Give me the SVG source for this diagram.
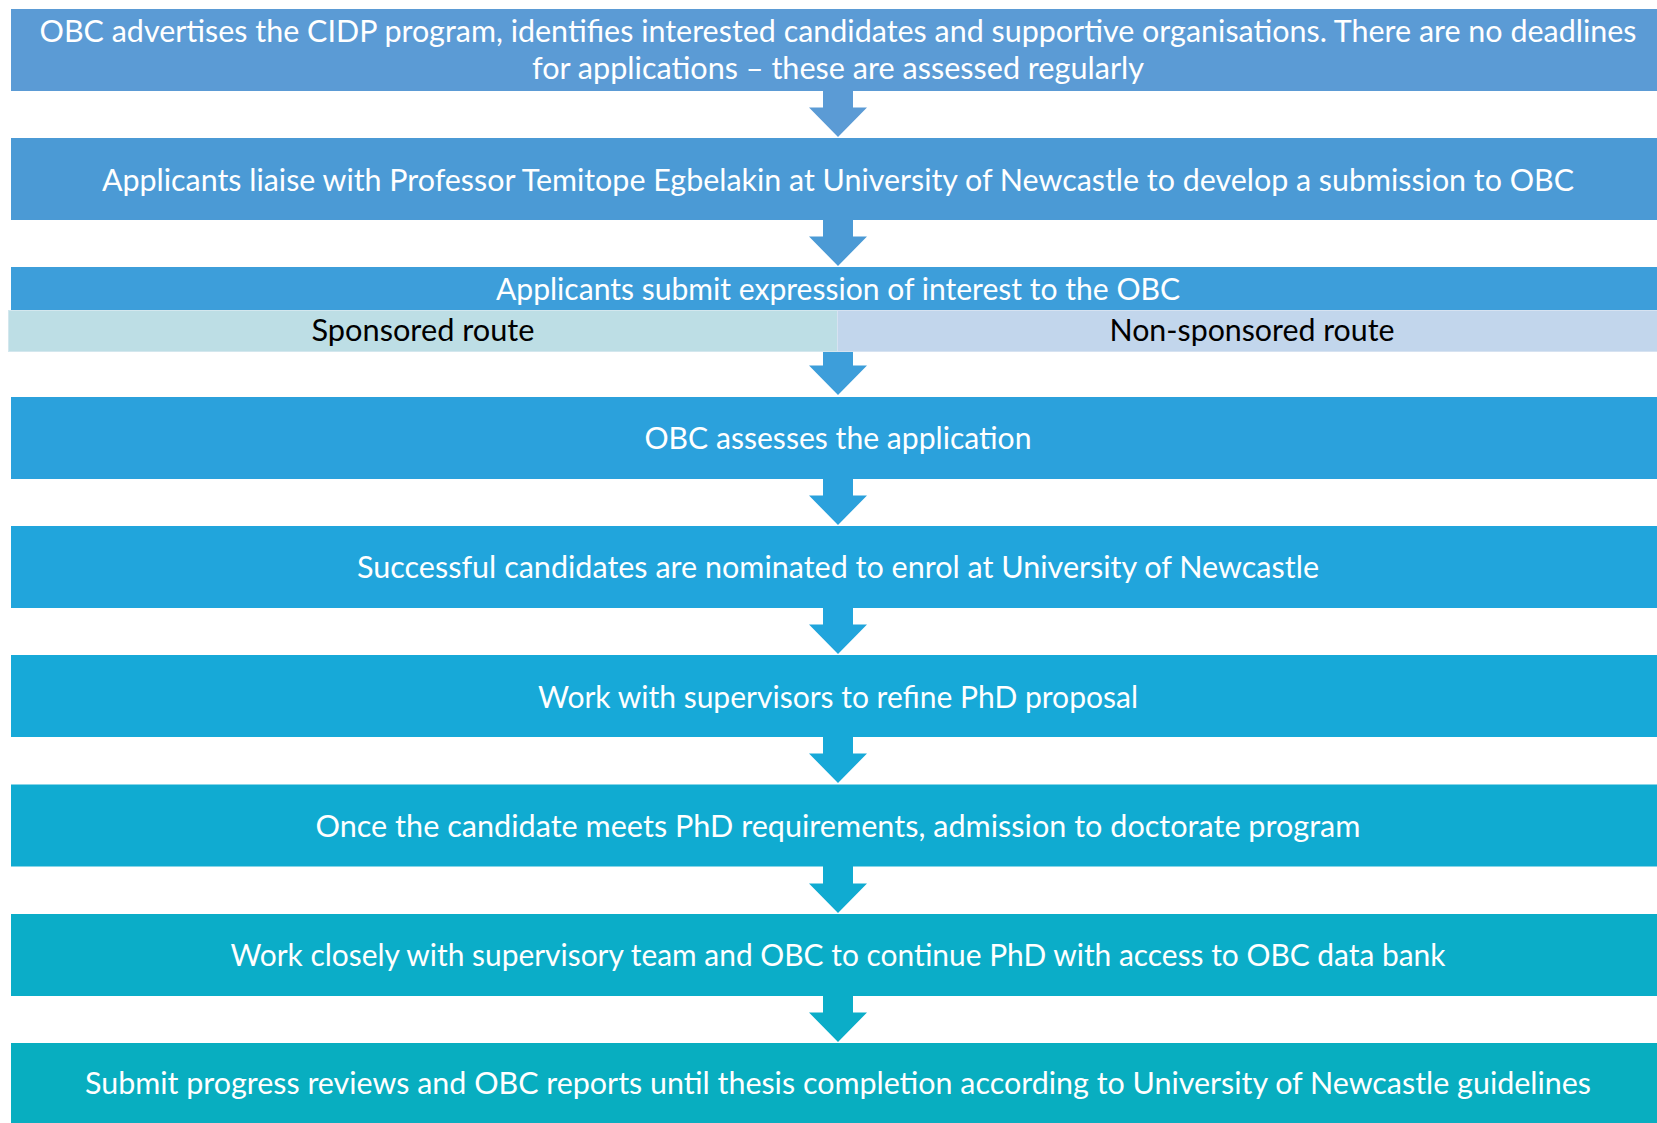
<svg xmlns="http://www.w3.org/2000/svg" width="1657" height="1123" viewBox="0 0 1657 1123">
<style>
.t{font-family:Lato,"Source Sans Pro","Liberation Sans",sans-serif;font-size:30px;fill:#ffffff;text-anchor:middle}
.b{font-family:Lato,"Liberation Sans",sans-serif;font-size:30px;fill:#000000;text-anchor:middle}
</style>
<rect width="1657" height="1123" fill="#ffffff"/>
<g id="connectors">
<path d="M823,90 H853 V107.5 H867 L838,137 L809,107.5 H823 Z" fill="#5B9BD5"/>
<path d="M823,219 H853 V236.5 H867 L838,266 L809,236.5 H823 Z" fill="#4B9AD5"/>
<path d="M823,350 H853 V365.5 H867 L838,395 L809,365.5 H823 Z" fill="#3D9EDA"/>
<path d="M823,478 H853 V495.5 H867 L838,525 L809,495.5 H823 Z" fill="#2BA1DC"/>
<path d="M823,607 H853 V624.5 H867 L838,654 L809,624.5 H823 Z" fill="#21A5DC"/>
<path d="M823,736 H853 V753.5 H867 L838,783 L809,753.5 H823 Z" fill="#17A9D8"/>
<path d="M823,866 H853 V883.5 H867 L838,913 L809,883.5 H823 Z" fill="#10ABD1"/>
<path d="M823,995 H853 V1012.5 H867 L838,1042 L809,1012.5 H823 Z" fill="#0BADC8"/>
</g>
<g id="node1">
<rect x="11" y="9" width="1646" height="82" fill="#5B9BD5"/>
<text class="t" x="838" y="42" textLength="1597" lengthAdjust="spacingAndGlyphs">OBC advertises the CIDP program, identifies interested candidates and supportive organisations. There are no deadlines</text>
<text class="t" x="838" y="79" textLength="612" lengthAdjust="spacingAndGlyphs">for applications – these are assessed regularly</text>
</g>
<g id="node2">
<rect x="11" y="138" width="1646" height="82" fill="#4B9AD5"/>
<text class="t" x="838" y="190.5" textLength="1472" lengthAdjust="spacingAndGlyphs">Applicants liaise with Professor Temitope Egbelakin at University of Newcastle to develop a submission to OBC</text>
</g>
<g id="node3">
<rect x="11" y="267" width="1646" height="44" fill="#3D9EDA"/>
<text class="t" x="838" y="299.5" textLength="684" lengthAdjust="spacingAndGlyphs">Applicants submit expression of interest to the OBC</text>
</g>
<g id="node3a">
<rect x="8.5" y="310.5" width="829" height="41" fill="#BDDEE5" stroke="#D3E7EE" stroke-width="1"/>
<text class="b" x="423" y="341" textLength="223" lengthAdjust="spacingAndGlyphs">Sponsored route</text>
</g>
<g id="node3b">
<rect x="837.5" y="310.5" width="820" height="41" fill="#C2D6EC" stroke="#D6E2F1" stroke-width="1"/>
<text class="b" x="1252" y="341" textLength="285" lengthAdjust="spacingAndGlyphs">Non-sponsored route</text>
</g>
<g id="node4">
<rect x="11" y="397" width="1646" height="82" fill="#2BA1DC"/>
<text class="t" x="838" y="449" textLength="387" lengthAdjust="spacingAndGlyphs">OBC assesses the application</text>
</g>
<g id="node5">
<rect x="11" y="526" width="1646" height="82" fill="#21A5DC"/>
<text class="t" x="838" y="578" textLength="962" lengthAdjust="spacingAndGlyphs">Successful candidates are nominated to enrol at University of Newcastle</text>
</g>
<g id="node6">
<rect x="11" y="655" width="1646" height="82" fill="#17A9D8"/>
<text class="t" x="838" y="707.5" textLength="600" lengthAdjust="spacingAndGlyphs">Work with supervisors to refine PhD proposal</text>
</g>
<g id="node7">
<rect x="11" y="784.5" width="1646" height="82" fill="#10ABD1"/>
<text class="t" x="838" y="837" textLength="1045" lengthAdjust="spacingAndGlyphs">Once the candidate meets PhD requirements, admission to doctorate program</text>
</g>
<g id="node8">
<rect x="11" y="914" width="1646" height="82" fill="#0BADC8"/>
<text class="t" x="838" y="966" textLength="1215" lengthAdjust="spacingAndGlyphs">Work closely with supervisory team and OBC to continue PhD with access to OBC data bank</text>
</g>
<g id="node9">
<rect x="11" y="1043" width="1646" height="82" fill="#08AEC0"/>
<text class="t" x="838" y="1094.3" textLength="1506" lengthAdjust="spacingAndGlyphs">Submit progress reviews and OBC reports until thesis completion according to University of Newcastle guidelines</text>
</g>
</svg>
